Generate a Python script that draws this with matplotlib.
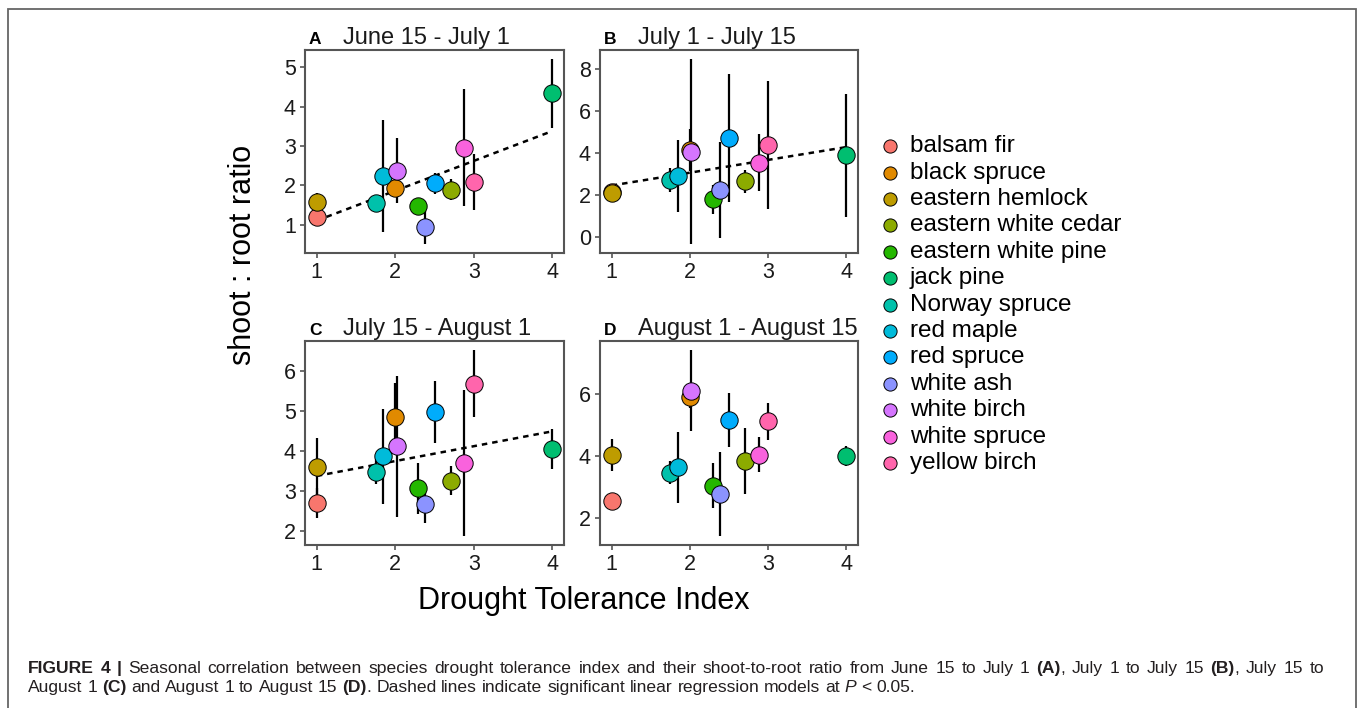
import numpy as np
import matplotlib
matplotlib.use("Agg")
import matplotlib.pyplot as plt
from matplotlib.patches import Rectangle

plt.rcParams["font.family"] = ["Liberation Sans", "DejaVu Sans"]

W, H = 1358, 708

species = ["balsam fir", "black spruce", "eastern hemlock", "eastern white cedar",
           "eastern white pine", "jack pine", "Norway spruce", "red maple",
           "red spruce", "white ash", "white birch", "white spruce", "yellow birch"]
colors = ["#F8766D", "#E18A00", "#BE9C00", "#8CAB00", "#24B700", "#00BE70",
          "#00C1AB", "#00BBDA", "#00ACFC", "#8B93FF", "#D575FE", "#F962DD", "#FF65AC"]

# drought tolerance index (dodged slightly in the original)
dti = [1.0, 2.0, 1.0, 2.71, 2.29, 4.0, 1.75, 1.85, 2.5, 2.38, 2.02, 2.88, 3.0]

# mean shoot:root ratio and half-width of error bar, per period
mean_a = [1.18, 1.94, 1.57, 1.89, 1.46, 4.34, 1.55, 2.23, 2.05, 0.93, 2.37, 2.96, 2.09]
err_a = [0.17, 0.22, 0.23, 0.27, 0.22, 0.87, 0.19, 1.42, 0.27, 0.42, 0.83, 1.50, 0.71]
mean_b = [2.12, 4.13, 2.08, 2.65, 1.78, 3.89, 2.70, 2.89, 4.71, 2.22, 4.06, 3.52, 4.38]
err_b = [0.30, 1.00, 0.40, 0.55, 0.68, 2.93, 0.55, 1.70, 3.05, 2.30, 4.40, 1.36, 3.04]
mean_c = [2.71, 4.85, 3.61, 3.26, 3.07, 4.06, 3.49, 3.87, 4.97, 2.69, 4.12, 3.70, 5.68]
err_c = [0.37, 0.85, 0.72, 0.36, 0.64, 0.50, 0.32, 1.18, 0.78, 0.49, 1.76, 1.81, 0.83]
mean_d = [2.54, 5.89, 4.03, 3.83, 3.04, 4.00, 3.46, 3.63, 5.16, 2.77, 6.11, 4.04, 5.12]
err_d = [0.10, 0.35, 0.51, 1.06, 0.72, 0.33, 0.37, 1.15, 0.88, 1.35, 1.30, 0.57, 0.60]

# significant regressions: (intercept, slope); None = not significant
fit_a = (0.34, 0.76)
fit_b = (1.83, 0.61)
fit_c = (3.01, 0.37)
fit_d = None

tags = ["A", "B", "C", "D"]
periods = ["June 15 - July 1", "July 1 - July 15", "July 15 - August 1", "August 1 - August 15"]
yticks = [[1, 2, 3, 4, 5], [0, 2, 4, 6, 8], [2, 3, 4, 5, 6], [2, 4, 6]]
panels = [(mean_a, err_a, fit_a), (mean_b, err_b, fit_b),
          (mean_c, err_c, fit_c), (mean_d, err_d, fit_d)]

# axes boxes in pixels from top-left: left, top, right, bottom
boxes = [(305, 50, 564, 253), (600, 50, 858, 253),
         (305, 341, 564, 545), (600, 341, 858, 545)]

fig = plt.figure(figsize=(W / 100, H / 100), dpi=100)

spine_col = "#555555"
for k, (box, (m, e, fit)) in enumerate(zip(boxes, panels)):
    l, t, r, b = box
    ax = fig.add_axes([l / W, 1 - b / H, (r - l) / W, (b - t) / H])
    m = np.array(m)
    e = np.array(e)
    lo, hi = (m - e).min(), (m + e).max()
    pad = (hi - lo) * 0.05
    ax.set_ylim(lo - pad, hi + pad)
    ax.set_xlim(0.85, 4.15)
    ax.vlines(dti, m - e, m + e, color="black", lw=1.6, zorder=2)
    if fit is not None:
        xs = np.array([1.0, 4.0])
        ax.plot(xs, fit[0] + fit[1] * xs, ls=(0, (2.2, 2.0)), color="black", lw=1.8, zorder=3)
    for x, y, c in zip(dti, m, colors):
        ax.plot(x, y, "o", ms=12.5, mfc=c, mec="black", mew=0.7, zorder=4)
    ax.set_xticks([1, 2, 3, 4])
    ax.set_yticks(yticks[k])
    ax.tick_params(length=3.5, width=1.2, color=spine_col, labelsize=15.5,
                   labelcolor="#1a1a1a", pad=3)
    for s in ax.spines.values():
        s.set_color(spine_col)
        s.set_linewidth(1.5)
    fig.text((l + 4) / W, 1 - (t - 6) / H, tags[k], fontsize=12.5, fontweight="bold",
             ha="left", va="baseline")
    fig.text((l + 38) / W, 1 - (t - 6) / H, periods[k], fontsize=17,
             ha="left", va="baseline", color="#1a1a1a")

# axis labels
fig.text(243 / W, 1 - 255 / H, "shoot : root ratio", rotation=90, fontsize=22,
         ha="center", va="center")
fig.text(584 / W, 1 - 601 / H, "Drought Tolerance Index", fontsize=22,
         ha="center", va="center")

# legend
lax = fig.add_axes([880 / W, 1 - 476.2 / H, 270 / W, 343.2 / H])
lax.set_xlim(0, 270)
lax.set_ylim(len(species) - 0.5, -0.5)
lax.axis("off")
for i, (name, c) in enumerate(zip(species, colors)):
    lax.plot(10, i, "o", ms=9.5, mfc=c, mec="black", mew=0.7)
    lax.text(30, i, name, fontsize=17.5, va="center", ha="left")

# outer frame (bottom edge runs off the page)
fig.patches.append(Rectangle((8 / W, -0.05), 1348 / W, 1.05 - 9 / H, transform=fig.transFigure,
                             fill=False, ec="#666666", lw=1.3))

# caption
renderer = fig.canvas.get_renderer()
cap_size = 12.6


def caption_line(x0, y0, chunks, x1=None):
    # split into words, keep style; justify to x1 if given
    words = []
    for txt, weight, style in chunks:
        parts = txt.split(" ")
        for j, p in enumerate(parts):
            if p == "":
                if j > 0:
                    words.append(None)
                continue
            if j > 0 and (not words or words[-1] is not None):
                words.append(None)
            words.append((p, weight, style))
    items = []
    for w in words:
        if w is None:
            items.append(None)
            continue
        tt = fig.text(x0 / W, 1 - y0 / H, w[0], fontsize=cap_size, fontweight=w[1],
                      style=w[2], ha="left", va="baseline", color="#231f20")
        items.append((tt, tt.get_window_extent(renderer).width))
    probe = fig.text(0, 0, "a a", fontsize=cap_size)
    space = probe.get_window_extent(renderer).width
    probe.remove()
    probe = fig.text(0, 0, "aa", fontsize=cap_size)
    space -= probe.get_window_extent(renderer).width
    probe.remove()
    n_space = sum(1 for it in items if it is None)
    natural = sum(it[1] for it in items if it is not None) + n_space * space
    gap = space
    if x1 is not None and n_space:
        gap = space + (x1 - x0 - natural) / n_space
    x = x0
    for it in items:
        if it is None:
            x += gap
        else:
            it[0].set_x(x / W)
            x += it[1]


caption_line(28, 673, [("FIGURE 4 |", "bold", "normal"),
                       (" Seasonal correlation between species drought tolerance index and their "
                        "shoot-to-root ratio from June 15 to July 1 ", "normal", "normal"),
                       ("(A)", "bold", "normal"), (", July 1 to July 15 ", "normal", "normal"),
                       ("(B)", "bold", "normal"), (", July 15 to", "normal", "normal")], x1=1324)
caption_line(28, 692, [("August 1 ", "normal", "normal"), ("(C)", "bold", "normal"),
                       (" and August 1 to August 15 ", "normal", "normal"),
                       ("(D)", "bold", "normal"),
                       (". Dashed lines indicate significant linear regression models at ",
                        "normal", "normal"),
                       ("P", "normal", "italic"), (" < 0.05.", "normal", "normal")])

fig.savefig("out.png", dpi=100)
